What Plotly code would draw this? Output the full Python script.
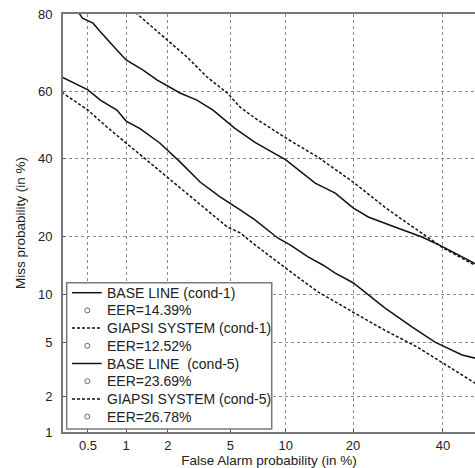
import plotly.graph_objects as go
from statistics import NormalDist

_nd = NormalDist()


def probit(vals):
    return [_nd.inv_cdf(v / 100.0) for v in vals]


# ---- data (percent) ----
x_ticks = [0.5, 1, 2, 5, 10, 20, 40]
x_tick_text = ["0.5", "1", "2", "5", "10", "20", "40"]
y_ticks = [1, 2, 5, 10, 20, 40, 60, 80]
y_tick_text = ["1", "2", "5", "10", "20", "40", "60", "80"]

base1_fa = [0.30, 0.50, 0.63, 0.85, 1.0, 1.27, 1.76, 2.42, 3.27, 4.35, 5.7, 6.9, 9.1, 10.5, 12.8, 15.0, 16.9, 20.0, 26.3, 32.4, 38.0, 44.9, 48.5]
base1_miss = [64.2, 60.5, 57.5, 54.5, 51.2, 48.9, 44.6, 39.0, 33.3, 29.3, 26.0, 23.6, 19.6, 18.2, 15.9, 14.4, 13.1, 11.6, 8.3, 6.3, 5.0, 4.07, 3.85]

giapsi1_fa = [0.30, 0.50, 0.71, 1.0, 1.43, 2.0, 2.69, 3.62, 4.8, 5.7, 6.9, 10.0, 14.2, 20.0, 26.3, 33.8, 40.0, 48.5]
giapsi1_miss = [59.8, 54.5, 49.4, 44.6, 39.6, 34.7, 30.3, 26.0, 22.0, 20.7, 18.2, 13.9, 10.3, 7.8, 6.0, 4.6, 3.57, 2.5]

base5_fa = [0.40, 0.45, 0.55, 0.63, 0.85, 1.0, 1.33, 1.68, 2.42, 3.12, 3.94, 5.3, 6.9, 10.0, 13.8, 16.9, 20.0, 22.9, 28.5, 34.8, 40.0, 48.5]
base5_miss = [81.0, 79.1, 78.0, 76.0, 71.5, 68.9, 66.2, 63.4, 59.6, 57.5, 54.5, 49.1, 44.8, 39.6, 33.0, 30.3, 26.5, 24.3, 22.0, 19.8, 17.8, 14.6]

giapsi5_fa = [1.1, 1.5, 2.0, 2.69, 3.62, 4.8, 5.7, 6.9, 10.0, 14.2, 20.0, 26.3, 29.6, 33.8, 40.0, 48.5]
giapsi5_miss = [81.0, 77.6, 74.0, 69.7, 64.2, 59.6, 55.4, 52.1, 46.1, 40.4, 33.3, 26.7, 24.1, 21.3, 17.6, 14.3]

series_names = ["BASE LINE (cond-1)", "GIAPSI SYSTEM (cond-1)", "BASE LINE\u00a0 (cond-5)", "GIAPSI SYSTEM (cond-5)"]
eer_labels = ["EER=14.39%", "EER=12.52%", "EER=23.69%", "EER=26.78%"]
series_fa = [base1_fa, giapsi1_fa, base5_fa, giapsi5_fa]
series_miss = [base1_miss, giapsi1_miss, base5_miss, giapsi5_miss]
series_dash = ["solid", "3px,2px", "solid", "3px,2px"]

# ---- geometry (pixels) ----
W, H = 475, 468
L, R, T, B = 63, 0, 14, 36
PW, PH = W - L - R, H - T - B


def px(x):
    return (x - L) / PW


def py(y):
    return (H - B - y) / PH


FAMILY = "Liberation Sans, Arial, sans-serif"
font = dict(family=FAMILY, size=14, color="#222222")
tick_font = dict(family=FAMILY, size=13, color="#222222")
title_font = dict(family=FAMILY, size=13.5, color="#222222")
grid = dict(showgrid=True, gridcolor="#8a8a8a", gridwidth=1, griddash="dot")

fig = go.Figure()
for name, fa, miss, dash in zip(series_names, series_fa, series_miss, series_dash):
    fig.add_trace(go.Scatter(
        x=probit(fa), y=probit(miss), mode="lines", name=name,
        line=dict(color="#111111", width=1.5, dash=dash),
        hoverinfo="skip", showlegend=False,
    ))

# ---- legend drawn in paper space ----
shapes = []
annotations = []
box = dict(x0=66.7, x1=271.7, y0=282.7, y1=429)
shapes.append(dict(type="rect", xref="paper", yref="paper",
                   x0=px(box["x0"]), x1=px(box["x1"]), y0=py(box["y1"]), y1=py(box["y0"]),
                   fillcolor="white", line=dict(color="#7a7a7a", width=1.5), layer="above"))
row0, step = 292.7, 17.7
labels = []
for name, eer, dash in zip(series_names, eer_labels, series_dash):
    labels.append(("line", name, dash))
    labels.append(("marker", eer, None))
for i, (kind, text, dash) in enumerate(labels):
    yy = row0 + i * step
    if kind == "line":
        shapes.append(dict(type="line", xref="paper", yref="paper",
                           x0=px(72), x1=px(101.7), y0=py(yy), y1=py(yy),
                           line=dict(color="#111111", width=1.5, dash=dash), layer="above"))
    else:
        r = 2.5
        shapes.append(dict(type="circle", xref="paper", yref="paper",
                           x0=px(87.3 - r), x1=px(87.3 + r), y0=py(yy + r), y1=py(yy - r),
                           line=dict(color="#666666", width=1), fillcolor="white", layer="above"))
    annotations.append(dict(xref="paper", yref="paper", x=px(105), y=py(yy),
                            xanchor="left", yanchor="middle", text=text, showarrow=False,
                            font=font))

fig.update_layout(
    width=W, height=H,
    margin=dict(l=L, r=R, t=T, b=B),
    paper_bgcolor="white", plot_bgcolor="white",
    font=font,
    showlegend=False,
    shapes=shapes,
    annotations=annotations,
    xaxis=dict(
        range=[_nd.inv_cdf(0.00308), _nd.inv_cdf(0.4825)],
        tickvals=probit(x_ticks), ticktext=x_tick_text,
        ticks="inside", ticklen=3, tickcolor="#555555",
        showline=True, linecolor="#777777", linewidth=1.8, mirror=True,
        zeroline=False,
        tickfont=tick_font,
        title=dict(text="False Alarm probability (in %)", standoff=5, font=title_font),
        **grid,
    ),
    yaxis=dict(
        range=probit([1, 80]),
        tickvals=probit(y_ticks), ticktext=y_tick_text,
        ticks="inside", ticklen=3, tickcolor="#555555",
        showline=True, linecolor="#777777", linewidth=1.8,
        zeroline=False,
        tickfont=tick_font,
        ticklabelstandoff=6,
        title=dict(text="Miss probability (in %)", standoff=9, font=title_font),
        **grid,
    ),
)

fig.write_html("out.html")
